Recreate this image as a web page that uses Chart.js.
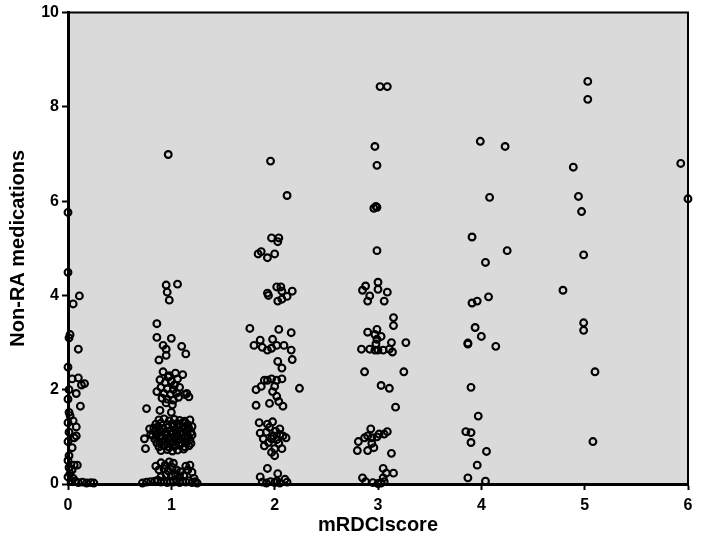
<!DOCTYPE html>
<html>
<head>
<meta charset="utf-8">
<script src="https://cdn.jsdelivr.net/npm/chart.js@4"></script>
<style>
  body { margin: 0; background: #ffffff; }
  #wrap { width: 709px; height: 550px; }
</style>
</head>
<body>
<div id="wrap"><canvas id="myChart" width="709" height="550"></canvas></div>
<script>
// axis
let xTicks = [0, 1, 2, 3, 4, 5, 6];
let yTicks = [0, 2, 4, 6, 8, 10];
let xTitle = "mRDCIscore";
let yTitle = "Non-RA medications";

// points, [mRDCI (jittered), medications (jittered)]
let score0 = [
    [0.0, 5.76], [0.0, 4.49], [0.11, 3.99], [0.05, 3.82], [0.02, 3.17], [0.01, 3.1],
    [0.1, 2.86], [0.0, 2.48], [0.04, 2.23], [0.1, 2.25], [0.13, 2.1], [0.16, 2.13],
    [0.08, 1.92], [0.12, 1.65], [0.01, 2.0], [0.0, 1.8], [0.01, 1.52], [0.05, 1.34],
    [0.08, 1.21], [0.0, 1.3], [0.08, 1.02], [0.06, 0.98], [0.01, 1.1], [0.0, 0.9],
    [0.04, 0.77], [0.01, 0.6], [0.0, 0.5], [0.06, 0.4], [0.09, 0.4], [0.04, 0.3],
    [0.02, 0.22], [0.05, 0.12], [0.0, 0.15], [0.03, 0.05], [0.07, 0.06], [0.1, 0.03],
    [0.14, 0.04], [0.18, 0.02], [0.22, 0.03], [0.25, 0.02], [0.01, 0.35], [0.02, 1.45]
];

let score1 = [
    [0.97, 6.99], [0.95, 4.22], [1.06, 4.24], [0.96, 4.07], [0.98, 3.9],
    [0.86, 3.4], [0.86, 3.11], [1.0, 3.09], [0.92, 2.94], [0.95, 2.86], [1.1, 2.92],
    [1.14, 2.76], [0.95, 2.73], [0.88, 2.63],
    [0.92, 2.38], [0.89, 2.21], [0.97, 2.27], [1.06, 2.23], [1.11, 2.32], [0.94, 2.15],
    [1.0, 2.18], [1.03, 2.1], [0.9, 2.05], [0.96, 2.02], [1.02, 2.0], [1.08, 2.05],
    [0.86, 1.96], [0.93, 1.92], [0.99, 1.9], [1.05, 1.93], [1.15, 1.92], [1.17, 1.85],
    [1.13, 1.9], [0.91, 1.82], [0.96, 1.8], [1.02, 1.78], [1.07, 1.84], [0.95, 1.72],
    [1.01, 1.68], [0.76, 1.6], [0.89, 1.56], [1.0, 1.52], [0.98, 2.3], [1.04, 2.35],
    [0.88, 1.36], [0.93, 1.38], [0.98, 1.34], [1.03, 1.37], [1.08, 1.35], [1.13, 1.33], [1.18, 1.36],
    [0.85, 1.27], [0.9, 1.29], [0.96, 1.26], [1.01, 1.28], [1.06, 1.27], [1.11, 1.3], [1.16, 1.26],
    [0.83, 1.19], [0.87, 1.21], [0.92, 1.18], [0.97, 1.2], [1.02, 1.22], [1.07, 1.19], [1.12, 1.21], [1.17, 1.18], [1.2, 1.22],
    [0.84, 1.11], [0.89, 1.13], [0.94, 1.1], [0.99, 1.12], [1.04, 1.14], [1.09, 1.11], [1.14, 1.12], [1.19, 1.1],
    [0.82, 1.03], [0.86, 1.05], [0.91, 1.02], [0.96, 1.04], [1.01, 1.06], [1.06, 1.03], [1.11, 1.05], [1.16, 1.02], [1.2, 1.04],
    [0.84, 0.95], [0.89, 0.97], [0.94, 0.94], [0.98, 0.96], [1.03, 0.98], [1.08, 0.95], [1.13, 0.97], [1.18, 0.94],
    [0.86, 0.87], [0.91, 0.89], [0.96, 0.86], [1.01, 0.88], [1.05, 0.9], [1.1, 0.87], [1.15, 0.89], [1.19, 0.86],
    [0.88, 0.79], [0.93, 0.81], [0.98, 0.78], [1.03, 0.8], [1.08, 0.82], [1.13, 0.79], [1.17, 0.81],
    [0.9, 0.71], [0.96, 0.73], [1.01, 0.7], [1.06, 0.72], [1.12, 0.74],
    [0.74, 0.96], [0.75, 0.75], [0.79, 1.17], [0.8, 1.05],
    [0.85, 0.38], [0.9, 0.45], [0.94, 0.4], [0.98, 0.47], [1.02, 0.44], [0.88, 0.3],
    [0.93, 0.32], [0.97, 0.28], [1.01, 0.35], [1.05, 0.3], [1.09, 0.26], [1.14, 0.38],
    [1.18, 0.4], [1.16, 0.3], [1.2, 0.25], [0.95, 0.2], [1.0, 0.18], [1.04, 0.2],
    [1.08, 0.15], [1.12, 0.18], [0.9, 0.15], [1.22, 0.12],
    [0.72, 0.02], [0.76, 0.04], [0.8, 0.05], [0.84, 0.06], [0.87, 0.08], [0.9, 0.04],
    [0.93, 0.07], [0.96, 0.03], [0.99, 0.06], [1.02, 0.04], [1.05, 0.08], [1.08, 0.03],
    [1.11, 0.06], [1.14, 0.04], [1.17, 0.07], [1.2, 0.03], [1.23, 0.05], [1.25, 0.02]
];

let score2 = [
    [1.96, 6.85], [2.12, 6.12], [1.97, 5.22], [2.04, 5.22], [2.03, 5.14],
    [1.84, 4.88], [1.87, 4.93], [1.93, 4.8], [2.0, 4.88],
    [1.93, 4.05], [1.94, 4.0], [2.02, 4.18], [2.06, 4.18], [2.07, 4.09], [2.03, 3.88],
    [2.07, 3.92], [2.12, 3.98], [2.17, 4.09],
    [1.76, 3.3], [2.04, 3.28], [2.16, 3.21], [1.86, 3.05], [1.8, 2.94], [1.88, 2.9],
    [1.93, 2.84], [1.97, 2.88], [1.98, 3.07], [2.02, 2.94], [2.09, 2.94], [2.16, 2.84],
    [2.17, 2.64], [2.03, 2.6], [2.07, 2.46],
    [1.9, 2.2], [1.93, 2.2], [1.97, 2.23], [2.02, 2.2], [2.07, 2.23], [1.82, 2.0],
    [1.87, 2.07], [1.98, 1.96], [2.0, 2.07], [2.02, 1.86], [2.04, 1.75], [2.08, 1.65],
    [1.82, 1.67], [1.95, 1.71], [2.24, 2.03],
    [1.85, 1.3], [1.93, 1.27], [1.98, 1.32], [1.86, 1.08], [1.92, 1.1], [2.05, 1.17],
    [2.08, 1.02], [1.89, 0.96], [1.97, 0.96], [2.02, 0.94], [2.11, 0.98], [1.9, 0.81],
    [2.0, 0.75], [2.07, 0.75], [1.97, 0.67], [2.0, 0.6], [1.95, 1.2], [2.01, 1.12],
    [2.05, 1.05], [1.94, 0.88], [2.04, 0.86], [1.99, 1.02],
    [1.93, 0.33], [1.86, 0.15], [2.03, 0.22], [2.1, 0.1],
    [1.88, 0.04], [1.92, 0.02], [1.96, 0.05], [2.0, 0.03], [2.02, 0.06], [2.05, 0.02], [2.12, 0.04]
];

let score3 = [
    [3.02, 8.43], [3.09, 8.43], [2.97, 7.16], [2.99, 6.76], [2.96, 5.85], [2.98, 5.89],
    [2.99, 5.87], [2.99, 4.95],
    [2.88, 4.2], [3.0, 4.28], [3.0, 4.13], [2.85, 4.11], [2.92, 3.99], [3.09, 4.07],
    [2.9, 3.88], [3.06, 3.88],
    [3.15, 3.53], [3.15, 3.36], [2.99, 3.28], [2.9, 3.22], [2.97, 3.17], [3.03, 3.13],
    [2.99, 3.07], [3.13, 3.0], [3.27, 3.0], [2.98, 2.97], [2.84, 2.86], [2.92, 2.86],
    [2.97, 2.84], [3.0, 2.84], [3.05, 2.84], [3.11, 2.86], [3.14, 2.8],
    [2.87, 2.38], [3.25, 2.38], [3.03, 2.09], [3.11, 2.03], [3.17, 1.63],
    [2.93, 1.17], [2.87, 0.98], [2.9, 1.02], [2.94, 0.98], [2.99, 1.0], [3.01, 1.06],
    [3.09, 1.11], [3.06, 1.06], [2.81, 0.9], [2.94, 0.86], [2.8, 0.71], [2.9, 0.71],
    [2.96, 0.77], [3.13, 0.65],
    [3.05, 0.33], [3.08, 0.23], [3.15, 0.23], [3.05, 0.13], [2.85, 0.13], [2.88, 0.05],
    [2.95, 0.03], [3.0, 0.01], [3.03, 0.02], [3.06, 0.05]
];

let score4 = [
    [3.99, 7.27], [4.23, 7.16], [4.08, 6.08], [3.91, 5.24], [4.25, 4.95], [4.04, 4.7],
    [3.91, 3.84], [3.96, 3.88], [4.07, 3.97], [3.94, 3.32], [4.0, 3.13], [3.87, 2.99],
    [3.87, 2.97], [4.14, 2.92], [3.9, 2.05], [3.97, 1.44], [3.85, 1.11], [3.9, 1.09],
    [3.9, 0.88], [4.05, 0.69], [3.96, 0.4], [3.87, 0.13], [4.04, 0.06]
];

let score5 = [
    [5.03, 8.54], [5.03, 8.16], [4.89, 6.72], [4.94, 6.1], [4.97, 5.78], [4.99, 4.86],
    [4.79, 4.11], [4.99, 3.42], [4.99, 3.26], [5.1, 2.38], [5.08, 0.9]
];

let score6 = [
    [5.93, 6.8], [6.0, 6.05]
];

let groups = [score0, score1, score2, score3, score4, score5, score6];
let punts = [];
for (let i = 0; i < groups.length; i++) {
    for (let j = 0; j < groups[i].length; j++) {
        punts.push({ x: groups[i][j][0], y: groups[i][j][1] });
    }
}

// grey plot area with a black frame
const fons = {
    id: "fons",
    beforeDraw(chart) {
        let a = chart.chartArea;
        let ctx = chart.ctx;
        ctx.save();
        ctx.fillStyle = "#dadada";
        ctx.fillRect(a.left, a.top, a.right - a.left, a.bottom - a.top);
        ctx.restore();
    },
    afterDraw(chart) {
        let a = chart.chartArea;
        let ctx = chart.ctx;
        ctx.save();
        ctx.strokeStyle = "#000";
        ctx.lineWidth = 2;
        ctx.beginPath();
        ctx.moveTo(a.left, a.top);
        ctx.lineTo(a.right, a.top);
        ctx.lineTo(a.right, a.bottom);
        ctx.stroke();
        ctx.restore();
    }
};

let tickFont = { family: "Liberation Sans, Arial, sans-serif", size: 16, weight: "bold" };
let titleFont = { family: "Liberation Sans, Arial, sans-serif", size: 20, weight: "bold" };

new Chart(document.getElementById("myChart"), {
    type: "scatter",
    data: {
        datasets: [{
            data: punts,
            borderColor: "#000",
            backgroundColor: "rgba(0,0,0,0)",
            borderWidth: 2.1,
            pointRadius: 3.4,
            clip: 6
        }]
    },
    options: {
        responsive: false,
        animation: false,
        layout: { padding: { top: 5, right: 21, left: 0, bottom: 0 } },
        plugins: { legend: { display: false }, tooltip: { enabled: false } },
        scales: {
            x: {
                type: "linear",
                min: 0,
                max: 6,
                afterBuildTicks: s => { s.ticks = xTicks.map(v => ({ value: v })); },
                afterFit: s => { s.height = 66; },
                border: { color: "#000", width: 3 },
                grid: { drawOnChartArea: false, color: "#000", tickLength: 6, tickWidth: 2 },
                ticks: { color: "#000", font: tickFont, padding: 6 },
                title: { display: true, text: xTitle, color: "#000", font: titleFont, padding: { top: 2, bottom: 13 } }
            },
            y: {
                type: "linear",
                min: 0,
                max: 10,
                afterBuildTicks: s => { s.ticks = yTicks.map(v => ({ value: v })); },
                afterFit: s => { s.width = 68; },
                border: { color: "#000", width: 3 },
                grid: { drawOnChartArea: false, color: "#000", tickLength: 6, tickWidth: 2 },
                ticks: { color: "#000", font: tickFont, padding: 3 },
                title: { display: true, text: yTitle, color: "#000", font: titleFont, padding: { top: 6, bottom: 6 } }
            }
        }
    },
    plugins: [fons]
});
</script>
</body>
</html>
